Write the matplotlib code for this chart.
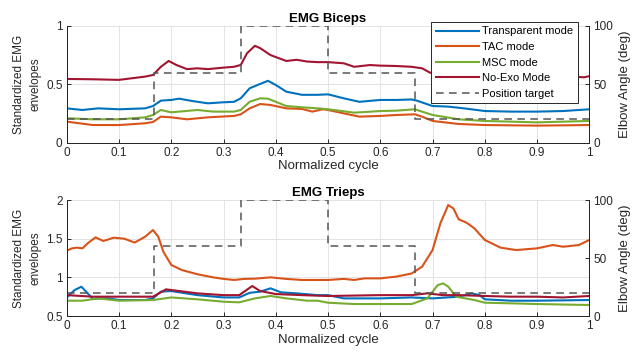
import matplotlib
matplotlib.use("Agg")
import matplotlib.pyplot as plt

plt.rcParams["font.family"] = ["Liberation Sans", "DejaVu Sans"]

# ---- data ----
# Biceps (top)
bic_transp_x = [0, 0.03, 0.06, 0.1, 0.15, 0.165, 0.18, 0.2, 0.215, 0.24, 0.27, 0.3, 0.32, 0.333, 0.35,
                0.37, 0.385, 0.40, 0.42, 0.45, 0.48, 0.5, 0.53, 0.56, 0.6, 0.63, 0.66, 0.67, 0.7, 0.73,
                0.76, 0.8, 0.85, 0.9, 0.95, 1.0]
bic_transp_y = [.294, .28, .294, .286, .294, .314, .36, .366, .377, .357, .337, .346, .35, .38, .466,
                .503, .53, .494, .437, .41, .41, .414, .38, .35, .366, .366, .37, .36, .314, .309,
                .294, .271, .266, .266, .271, .286]

bic_tac_x = [0, 0.05, 0.1, 0.15, 0.165, 0.18, 0.2, 0.23, 0.27, 0.32, 0.333, 0.35, 0.37, 0.39, 0.42,
             0.45, 0.47, 0.49, 0.5, 0.53, 0.56, 0.6, 0.63, 0.666, 0.68, 0.7, 0.75, 0.8, 0.9, 1.0]
bic_tac_y = [.18, .151, .151, .166, .177, .223, .217, .2, .217, .229, .243, .294, .331, .323, .294,
             .289, .266, .286, .28, .251, .223, .229, .237, .243, .223, .186, .16, .151, .146, .151]

bic_msc_x = [0, 0.05, 0.1, 0.15, 0.165, 0.18, 0.2, 0.25, 0.28, 0.32, 0.333, 0.35, 0.37, 0.385, 0.4,
             0.42, 0.45, 0.48, 0.5, 0.55, 0.6, 0.63, 0.666, 0.7, 0.75, 0.8, 0.9, 1.0]
bic_msc_y = [.209, .2, .2, .217, .237, .28, .26, .28, .266, .266, .28, .35, .38, .377, .35,
             .314, .303, .294, .286, .257, .271, .274, .286, .237, .2, .186, .174, .186]

bic_noexo_x = [0, 0.05, 0.1, 0.15, 0.165, 0.18, 0.195, 0.21, 0.23, 0.25, 0.27, 0.3, 0.32, 0.333,
               0.345, 0.36, 0.37, 0.39, 0.42, 0.44, 0.46, 0.48, 0.5, 0.53, 0.55, 0.58, 0.6, 0.63,
               0.66, 0.68, 0.695, 0.72, 0.76, 0.8, 0.85, 0.9, 0.95, 0.99, 1.0]
bic_noexo_y = [.546, .543, .538, .566, .58, .65, .70, .665, .63, .637, .63, .643, .65, .666,
               .766, .83, .81, .75, .70, .71, .695, .69, .69, .68, .65, .665, .66, .657,
               .65, .637, .60, .58, .57, .57, .57, .57, .57, .56, .57]

# Triceps (bottom)
tri_transp_x = [0, 0.015, 0.028, 0.04, 0.05, 0.065, 0.08, 0.1, 0.15, 0.165, 0.18, 0.2, 0.25, 0.3,
                0.33, 0.35, 0.37, 0.39, 0.41, 0.44, 0.48, 0.5, 0.53, 0.6, 0.66, 0.7, 0.75, 0.775,
                0.79, 0.8, 0.85, 0.9, 1.0]
tri_transp_y = [.74, .836, .879, .793, .72, .728, .728, .707, .707, .728, .815, .823, .77, .74,
                .74, .8, .815, .858, .806, .793, .77, .77, .728, .728, .74, .728, .75, .793,
                .77, .716, .698, .698, .707]

tri_tac_x = [0, 0.01, 0.02, 0.03, 0.04, 0.055, 0.07, 0.09, 0.11, 0.13, 0.15, 0.165, 0.175, 0.185,
             0.2, 0.22, 0.25, 0.28, 0.3, 0.32, 0.34, 0.36, 0.39, 0.42, 0.45, 0.5, 0.53, 0.55,
             0.57, 0.6, 0.63, 0.66, 0.68, 0.7, 0.715, 0.73, 0.74, 0.75, 0.765, 0.78, 0.8, 0.83,
             0.86, 0.9, 0.93, 0.95, 0.98, 1.0]
tri_tac_y = [1.345, 1.375, 1.384, 1.375, 1.44, 1.517, 1.47, 1.513, 1.5, 1.45, 1.526, 1.612, 1.526,
             1.33, 1.16, 1.095, 1.04, 1.0, .98, .966, .98, .983, 1.0, .98, .966, .966, .98, .966,
             .987, .987, 1.009, 1.05, 1.138, 1.353, 1.7, 1.935, 1.89, 1.75, 1.707, 1.634, 1.483,
             1.384, 1.353, 1.375, 1.418, 1.396, 1.418, 1.483]

tri_msc_x = [0, 0.03, 0.06, 0.1, 0.165, 0.2, 0.25, 0.3, 0.33, 0.36, 0.39, 0.42, 0.46, 0.48, 0.5,
             0.55, 0.6, 0.66, 0.69, 0.71, 0.72, 0.73, 0.745, 0.78, 0.8, 0.85, 0.9, 1.0]
tri_msc_y = [.698, .698, .728, .698, .707, .74, .716, .685, .677, .728, .759, .728, .698, .698, .672,
             .655, .655, .655, .728, .9, .922, .88, .75, .707, .672, .664, .655, .642]

tri_noexo_x = [0, 0.05, 0.1, 0.165, 0.19, 0.2, 0.25, 0.3, 0.33, 0.355, 0.37, 0.4, 0.45, 0.48, 0.5,
               0.6, 0.66, 0.69, 0.72, 0.75, 0.8, 0.85, 0.9, 0.95, 1.0]
tri_noexo_y = [.77, .75, .75, .75, .845, .836, .793, .77, .77, .888, .823, .784, .77, .763, .759,
               .77, .77, .793, .77, .77, .759, .75, .75, .74, .759]

# position target (elbow angle, right axis)
target_x = [0, 1/6, 1/3, 0.5, 2/3, 1]
target_y = [20, 60, 100, 60, 20, 20]

labels = ["Transparent mode", "TAC mode", "MSC mode", "No-Exo Mode"]
colors = ["#0072BD", "#D95319", "#77AC30", "#A2142F"]
axis_col = "#262626"

panels = [
    ("EMG Biceps", (0, 1), [0, 0.5, 1], ["0", "0.5", "1"],
     [(bic_transp_x, bic_transp_y), (bic_tac_x, bic_tac_y), (bic_msc_x, bic_msc_y), (bic_noexo_x, bic_noexo_y)]),
    ("EMG Trieps", (0.5, 2), [0.5, 1, 1.5, 2], ["0.5", "1", "1.5", "2"],
     [(tri_transp_x, tri_transp_y), (tri_tac_x, tri_tac_y), (tri_msc_x, tri_msc_y), (tri_noexo_x, tri_noexo_y)]),
]

fig = plt.figure(figsize=(6.36, 3.54), dpi=100)
rects = [[0.105, 0.597, 0.8216, 0.3297], [0.105, 0.1073, 0.8216, 0.3277]]

for i, (title, ylim, yticks, yticklabels, series) in enumerate(panels):
    ax = fig.add_axes(rects[i])
    handles = []
    for (xs, ys), lab, c in zip(series, labels, colors):
        h, = ax.plot(xs, ys, color=c, lw=1.5, label=lab)
        handles.append(h)
    ax.set_xlim(0, 1)
    ax.set_ylim(*ylim)
    ax.set_xticks([round(0.1 * k, 1) for k in range(11)])
    ax.set_xticklabels(["0"] + [f"{0.1 * k:.1f}" for k in range(1, 10)] + ["1"])
    ax.set_yticks(yticks)
    ax.set_yticklabels(yticklabels)
    ax.grid(True, color="#e3e3e3", lw=0.7)
    ax.set_axisbelow(True)
    ax.set_xlabel("Normalized cycle", fontsize=9.5, color=axis_col, labelpad=1)
    ax.set_ylabel("Standardized EMG\nenvelopes", fontsize=8.5, color=axis_col, labelpad=3,
                  linespacing=1.55)
    ax.set_title(title, fontsize=9.5, fontweight="bold", pad=3)

    ax2 = ax.twinx()
    h, = ax2.plot(target_x, target_y, drawstyle="steps-post", color="#555555", lw=1.1,
                  dashes=(5, 3.5), label="Position target")
    handles.append(h)
    ax2.set_ylim(0, 100)
    ax2.set_yticks([0, 50, 100])
    ax2.set_ylabel("Elbow Angle (deg)", fontsize=9.5, color=axis_col, labelpad=4)

    for a in (ax, ax2):
        a.spines["top"].set_visible(False)
        for s in a.spines.values():
            s.set_color(axis_col)
            s.set_linewidth(0.7)
        a.tick_params(direction="in", length=3, width=0.7, colors=axis_col, labelsize=8.5, pad=3)

    if i == 0:
        leg = ax2.legend(handles=handles, loc="upper right", bbox_to_anchor=(0.978, 1.034),
                         borderaxespad=0, fontsize=8, frameon=True, fancybox=False, framealpha=1,
                         handlelength=3.9, labelspacing=0.5, borderpad=0.4, handletextpad=0.3)
        leg.get_frame().set_edgecolor(axis_col)
        leg.get_frame().set_linewidth(0.7)
        leg.set_zorder(10)

fig.savefig("out.png", dpi=100)
